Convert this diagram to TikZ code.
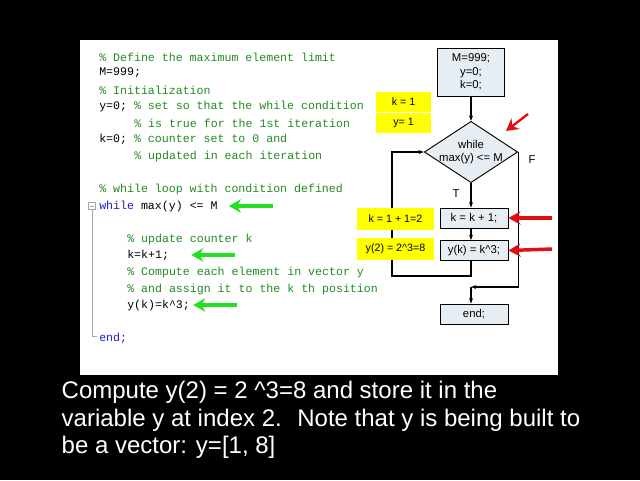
\documentclass[tikz,border=0pt]{standalone}
\usepackage{fontspec}
\setmainfont{Liberation Sans}
\setmonofont{Liberation Mono}
\usepackage{tikz}
\usetikzlibrary{arrows.meta, positioning, shapes.geometric, calc}
\definecolor{codegreen}{HTML}{228B22}
\definecolor{codeblue}{HTML}{1F1FD0}
\definecolor{flowfill}{HTML}{E6EEF4}
\definecolor{noteyellow}{HTML}{FFFF00}
\definecolor{markgreen}{HTML}{22E022}
\definecolor{markred}{HTML}{E01010}
\tikzset{
  code/.style={anchor=west, inner sep=0pt, font=\fontsize{8.7}{10}\ttfamily},
  flowbox/.style={draw=black, fill=flowfill, line width=0.7pt, minimum width=51pt, minimum height=15pt, inner sep=1pt, font=\fontsize{8.5}{10}\selectfont},
  note/.style={fill=noteyellow, inner sep=1pt, font=\fontsize{8}{10}\selectfont},
  flow/.style={line width=0.9pt, -{Stealth[length=4pt]}},
  pointer/.style={line width=2.6pt, -{Stealth[length=9pt, width=10pt]}}
}
\begin{document}
\begin{tikzpicture}[x=0.75pt, y=-0.75pt]
    \useasboundingbox (0,0) rectangle (640,480);
    \fill[black] (0,0) rectangle (640,480);
    \fill[white] (80,40) rectangle (558,375);
    % --- Code listing ---
    \node[code, color=codegreen] at (99,57) {\% Define the maximum element limit};
    \node[code] at (99,73) {M=999;};
    \node[code, color=codegreen] at (99,90) {\% Initialization};
    \node[code] at (99,106) {y=0; \textcolor{codegreen}{\% set so that the while condition}};
    \node[code, color=codegreen] at (134,123) {\% is true for the 1st iteration};
    \node[code] at (99,139) {k=0; \textcolor{codegreen}{\% counter set to 0 and}};
    \node[code, color=codegreen] at (134,156) {\% updated in each iteration};
    \node[code, color=codegreen] at (99,189) {\% while loop with condition defined};
    \node[code] (while) at (99,206) {\textcolor{codeblue}{while} max(y) <= M};
    \node[code, color=codegreen] at (127,239) {\% update counter k};
    \node[code] (kline) at (127,255) {k=k+1;};
    \node[code, color=codegreen] at (127,272) {\% Compute each element in vector y};
    \node[code, color=codegreen] at (127,289) {\% and assign it to the k th position};
    \node[code] (yline) at (127,305) {y(k)=k\textasciicircum 3;};
    \node[code, color=codeblue] at (99,338) {end;};
    % fold marker
    \draw[gray!70, line width=0.5pt] (88.5,202.5) rectangle (95.5,209.5);
    \draw[gray!70, line width=0.5pt] (90,206) -- (94,206);
    \draw[gray!70, line width=0.5pt] (92,209.5) -- (92,336) -- (97,336);
    % --- Flowchart ---
    \node[flowbox, minimum height=36pt, minimum width=50pt, align=center] (init) at (471,72)
      {M=999;\\y=0;\\k=0;};
    \node[diamond, draw=black, fill=flowfill, line width=0.7pt, aspect=1.5, inner sep=-3pt,
      minimum width=70pt, minimum height=46pt, align=center, font=\fontsize{8.5}{10}\selectfont]
      (cond) at (471,152) {while\\max(y) <= M};
    \node[flowbox] (inc) at (474,218) {k = k + 1;};
    \node[flowbox] (calc) at (474,250.5) {y(k) = k\textasciicircum 3;};
    \node[flowbox] (stop) at (474,314) {end;};
    \coordinate (loopb) at (471,276);
    \coordinate (loopl) at (392,276);
    \coordinate (loopt) at (392,152);
    \coordinate (fjoin) at (471,287);
    \draw[flow] (init) -- (cond);
    \draw[flow] (cond.south) -- (cond.south |- inc.north);
    \draw[flow] (inc.south -| cond.south) -- (cond.south |- calc.north);
    \draw[flow] (cond.south |- calc.south) -- (loopb) -- (loopl) -- (loopt) -- (cond.west);
    \draw[flow] (cond.east) -- (cond.east |- fjoin) -- (fjoin);
    \draw[flow] (fjoin) -- (fjoin |- stop.north);
    \node[font=\fontsize{8.5}{10}\selectfont] at (456,194) {T};
    \node[font=\fontsize{8.5}{10}\selectfont] at (532,160) {F};
    % --- Value notes ---
    \node[note, minimum width=41pt, minimum height=14.5pt] (k1) at (403.5,102) {k = 1};
    \node[note, minimum width=41pt, minimum height=14.5pt] (y1) at (403.5,123) {y= 1};
    \node[note, minimum width=58pt, minimum height=16pt] (k2) at (395.5,219) {k = 1 + 1=2};
    \node[note, minimum width=58pt, minimum height=16pt] (y2) at (395.5,249) {y(2) = 2\textasciicircum 3=8};
    % --- Pointers ---
    \draw[pointer, markgreen] ($(while.east)+(55,0)$) -- ++(-44,0);
    \draw[pointer, markgreen] ($(kline.east)+(66,0)$) -- ++(-44,0);
    \draw[pointer, markgreen] ($(yline.east)+(47,0)$) -- ++(-44,0);
    \draw[pointer, markred] (552,218) -- (inc.east);
    \draw[pointer, markred] (552,249) -- (calc.east);
    \draw[pointer, markred, line width=1.8pt] (528,114) -- (506,131);
    % --- Caption ---
    \node[anchor=west, align=left, text=white, font=\fontsize{18}{20.6}\selectfont] (caption) at (57,420)
      {Compute y(2) = 2 \textasciicircum 3=8 and store it in the\\
       variable y at index 2.~ Note that y is being built to\\
       be a vector: y=[1, 8]};
\end{tikzpicture}
\end{document}
